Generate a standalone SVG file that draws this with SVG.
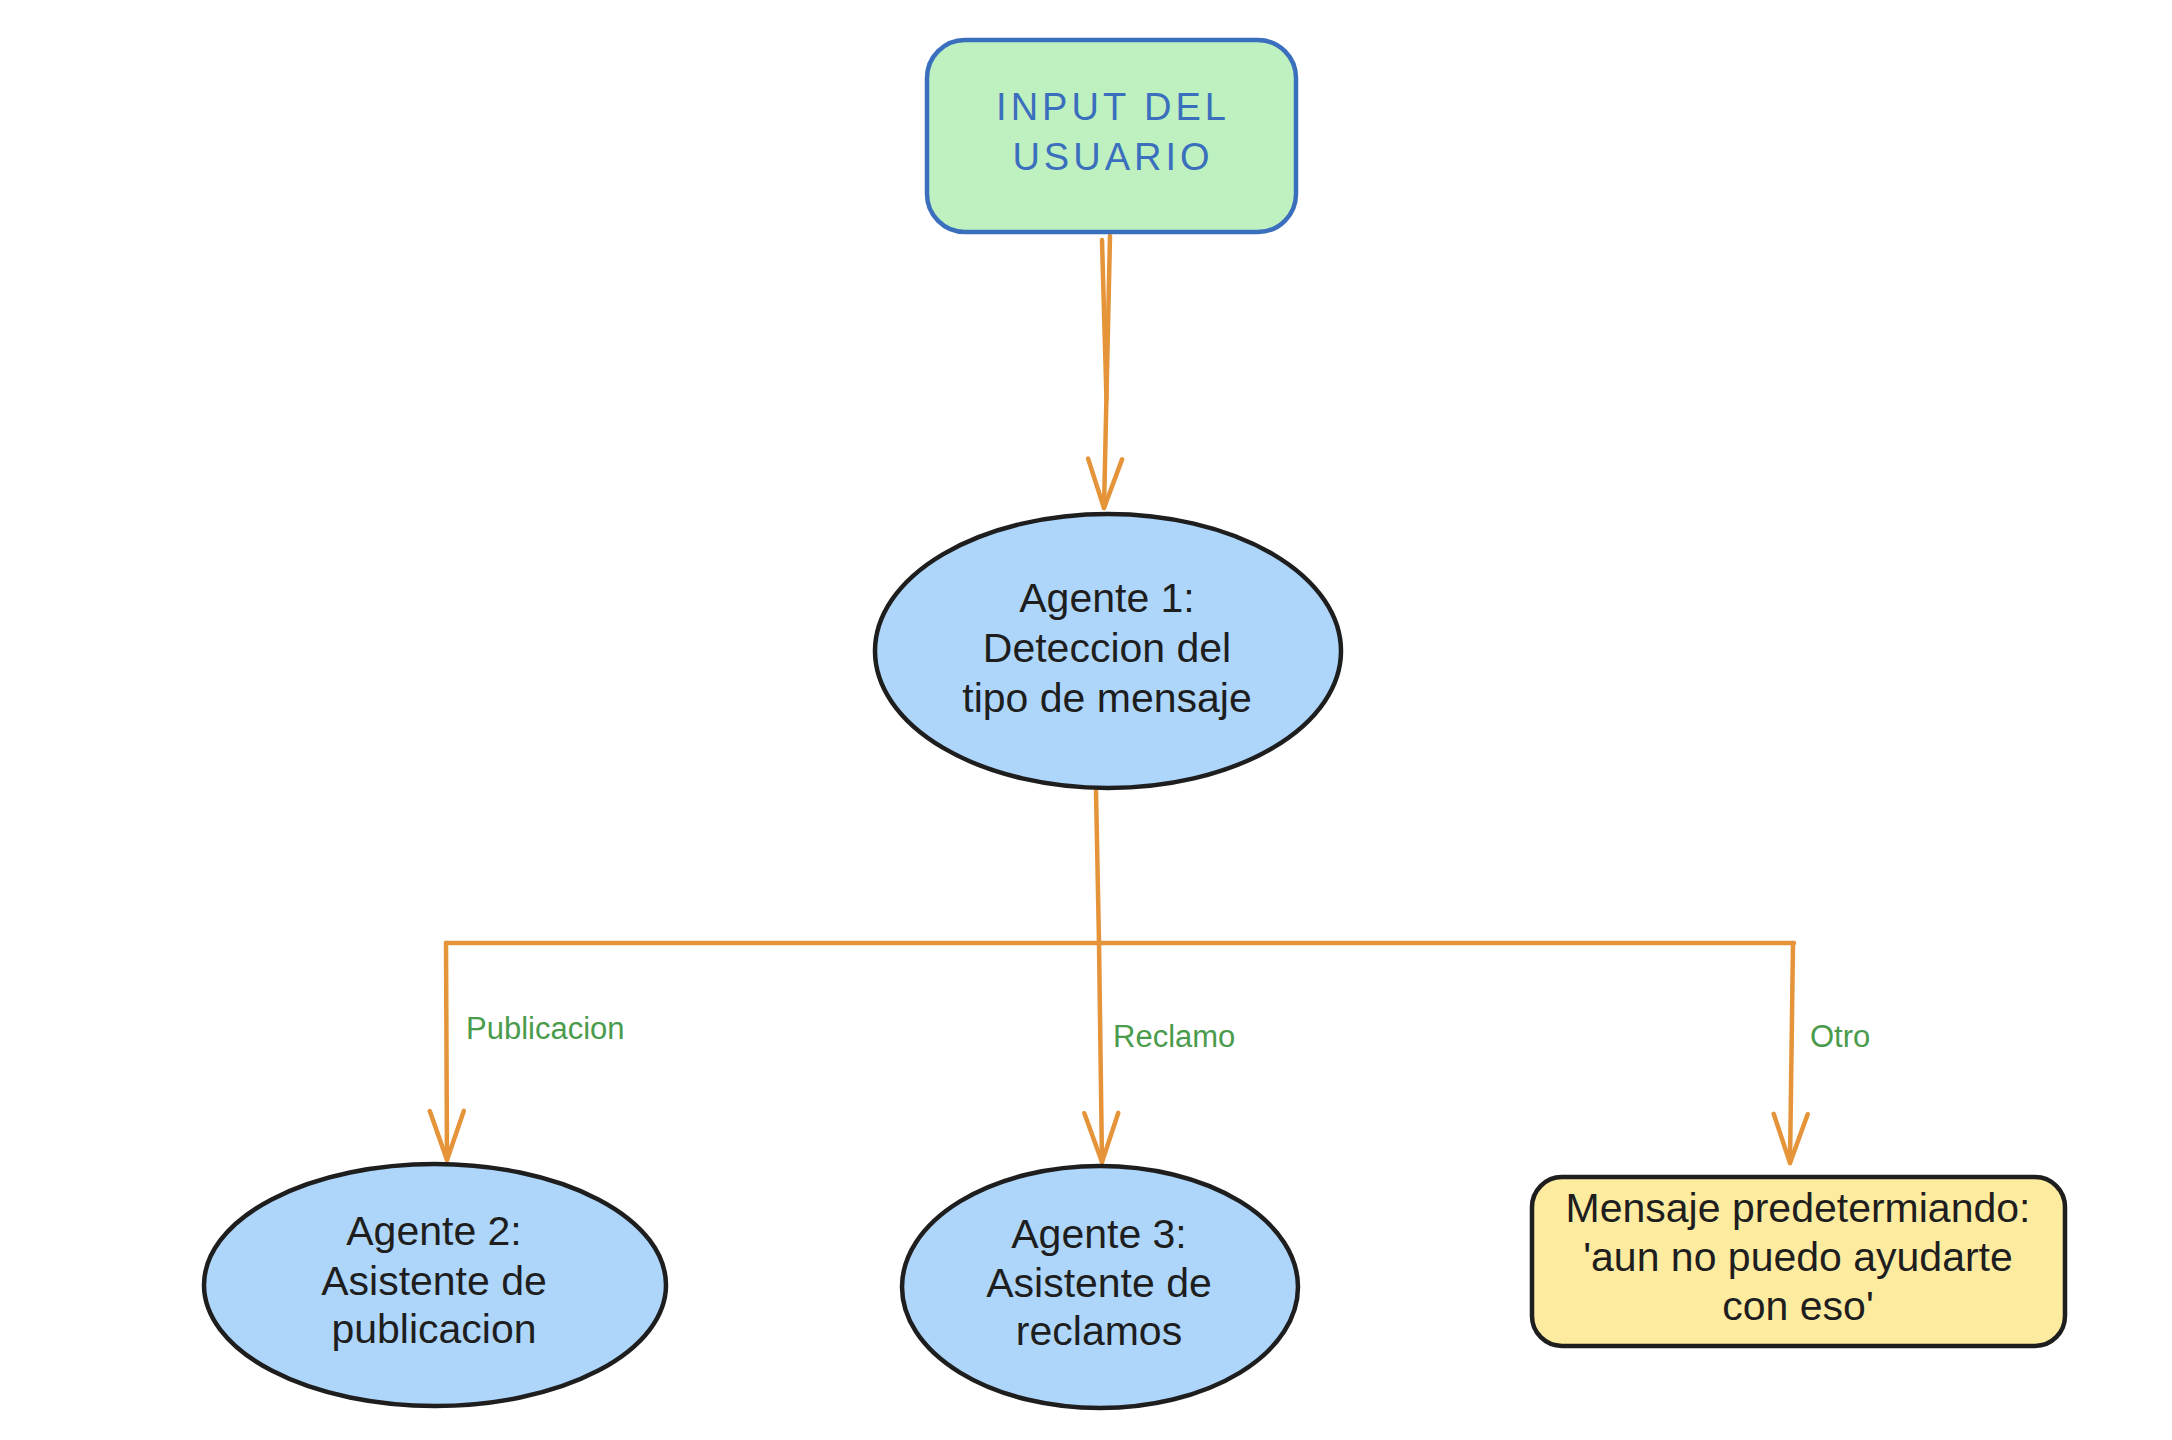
<svg xmlns="http://www.w3.org/2000/svg" width="2172" height="1440" viewBox="0 0 2172 1440">
<style>
.conn{fill:none;stroke:#e5943a;stroke-width:4.5;stroke-linecap:round;stroke-linejoin:round}
.lbl{font-family:"Liberation Sans",Arial,sans-serif;font-size:31px;fill:#4a9c4c}
.txt{font-family:"Liberation Sans",Arial,sans-serif;font-size:41px;fill:#1e1e1e;text-anchor:middle}
.ttl{font-family:"Liberation Sans",Arial,sans-serif;font-size:38px;fill:#3a6fbe;text-anchor:middle;letter-spacing:4px}
.ell{fill:#aed6fa;stroke:#1e1e1e;stroke-width:4.5}
</style>
<defs>
<marker id="arr" markerUnits="userSpaceOnUse" viewBox="0 0 60 40" refX="57" refY="20" markerWidth="60" markerHeight="40" orient="auto">
<path d="M8,3 L57,20 L8,37" fill="none" stroke="#e5943a" stroke-width="4.5" stroke-linecap="round" stroke-linejoin="round"/>
</marker>
</defs>
<rect width="2172" height="1440" fill="#ffffff"/>
<g id="connectors">
<path class="conn" d="M1110,236 L1104,508" marker-end="url(#arr)"/>
<path class="conn" d="M1102,240 L1106.5,400" stroke-width="3.5"/>
<path class="conn" d="M1096,791 L1099,943"/>
<path class="conn" d="M446,943 L1794,943"/>
<path class="conn" d="M446,943 L447,1160" marker-end="url(#arr)"/>
<path class="conn" d="M1099,943 L1102,1162" marker-end="url(#arr)"/>
<path class="conn" d="M1793,943 L1790,1163" marker-end="url(#arr)"/>
<text class="lbl" x="466" y="1039">Publicacion</text>
<text class="lbl" x="1113" y="1047">Reclamo</text>
<text class="lbl" x="1810" y="1047">Otro</text>
</g>
<g id="input">
<rect x="927" y="40" width="369" height="192" rx="38" fill="#bff0c0" stroke="#3a6fbe" stroke-width="4.5"/>
<text class="ttl" x="1113" y="120">INPUT DEL</text>
<text class="ttl" x="1113" y="170">USUARIO</text>
</g>
<g id="agente1">
<ellipse class="ell" cx="1108" cy="651" rx="233" ry="137"/>
<text class="txt" x="1107" y="612">Agente 1:</text>
<text class="txt" x="1107" y="662">Deteccion del</text>
<text class="txt" x="1107" y="712">tipo de mensaje</text>
</g>
<g id="agente2">
<ellipse class="ell" cx="435" cy="1285" rx="231" ry="121"/>
<text class="txt" x="434" y="1245">Agente 2:</text>
<text class="txt" x="434" y="1295">Asistente de</text>
<text class="txt" x="434" y="1343">publicacion</text>
</g>
<g id="agente3">
<ellipse class="ell" cx="1100" cy="1287" rx="198" ry="121"/>
<text class="txt" x="1099" y="1248">Agente 3:</text>
<text class="txt" x="1099" y="1297">Asistente de</text>
<text class="txt" x="1099" y="1345">reclamos</text>
</g>
<g id="otro">
<rect x="1532" y="1177" width="533" height="169" rx="30" fill="#fdeba0" stroke="#1e1e1e" stroke-width="4.5"/>
<text class="txt" x="1798" y="1222">Mensaje predetermiando:</text>
<text class="txt" x="1798" y="1271">'aun no puedo ayudarte</text>
<text class="txt" x="1798" y="1320">con eso'</text>
</g>
</svg>
